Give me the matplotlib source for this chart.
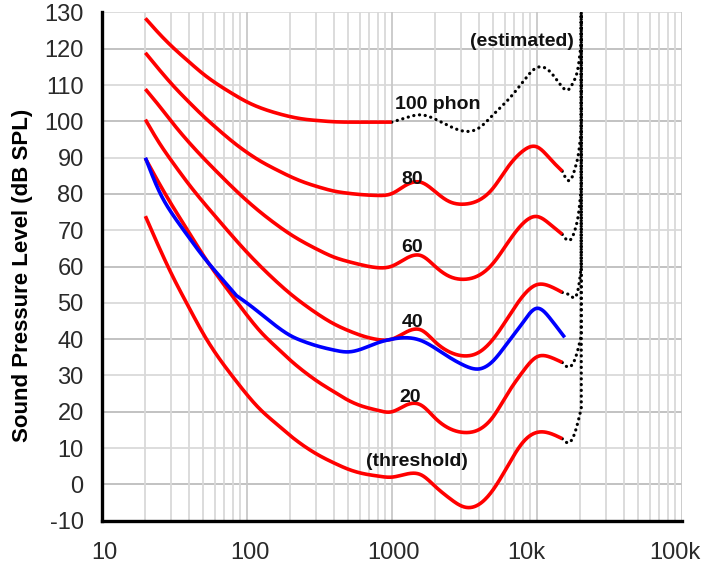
import numpy as np
import matplotlib
matplotlib.use("Agg")
import matplotlib.pyplot as plt
from matplotlib.transforms import ScaledTranslation

plt.rcParams['font.family'] = ['Liberation Sans', 'DejaVu Sans']
plt.rcParams['axes.unicode_minus'] = False

# ---------------- data ----------------
freq = [20, 25, 31.5, 40, 50, 63, 80, 100, 125, 160, 200, 250, 315, 400, 500,
        630, 800, 1000, 1250, 1600, 2000, 2500, 3150, 4000, 5000, 6300, 8000,
        10000, 12500, 15000]

phon_0 = [73.9, 65.1, 56.6, 48.7, 41.6, 35.3, 29.7, 24.8, 20.5, 16.7, 13.4, 10.5,
          8.0, 5.9, 4.2, 3.0, 2.3, 2.0, 2.8, 2.6, -0.6, -3.8, -6.2, -5.5, -1.5,
          5.0, 11.5, 14.3, 14.0, 12.6]
phon_20 = [89.8, 82.8, 76.0, 69.4, 63.2, 57.4, 51.8, 46.7, 42.0, 37.8, 34.2, 31.0,
           28.1, 25.5, 23.2, 21.5, 20.4, 20.0, 21.8, 21.8, 18.2, 15.4, 14.3, 15.1,
           18.6, 25.0, 31.0, 35.1, 35.0, 33.6]
phon_40 = [100.5, 94.0, 88.2, 82.6, 77.8, 73.1, 68.3, 64.0, 60.0, 55.9, 52.5, 49.5,
           46.7, 44.2, 42.4, 40.9, 39.9, 40.0, 41.9, 42.5, 39.2, 36.5, 35.4, 36.4,
           40.0, 45.8, 51.8, 55.0, 54.5, 52.9]
phon_60 = [108.9, 104.2, 99.1, 94.2, 90.0, 85.9, 81.8, 78.2, 74.9, 71.6, 68.9, 66.6,
           64.5, 62.6, 61.4, 60.4, 59.7, 60.1, 62.2, 63.0, 60.0, 57.3, 56.5, 57.6,
           60.9, 66.5, 71.8, 73.8, 71.5, 68.9]
phon_80 = [118.9, 114.2, 109.6, 105.3, 101.5, 97.9, 94.4, 91.5, 89.0, 86.7, 84.8, 83.2,
           81.9, 80.8, 80.2, 79.8, 79.6, 80.1, 82.4, 83.2, 80.6, 77.9, 77.2, 78.3,
           81.6, 87.3, 91.8, 93.0, 89.5, 86.3]
freq_100 = [20, 25, 31.5, 40, 50, 63, 80, 100, 125, 160, 200, 250, 315, 400, 500,
            630, 800, 1000]
phon_100 = [128.4, 124.1, 120.1, 116.4, 113.1, 110.2, 107.6, 105.4, 103.7, 102.3,
            101.3, 100.6, 100.2, 99.9, 99.8, 99.8, 99.8, 99.8]

# original (older) 40-phon contour, blue (two smooth pieces meeting at a kink)
freq_old_lo = [20, 25, 31.5, 40, 50, 63, 85]
phon_old_lo = [90.0, 80.6, 73.8, 68.0, 62.8, 58.0, 52.0]
freq_old_hi = [85, 100, 125, 160, 200, 250, 315, 400, 500, 630, 800, 1000, 1250,
               1600, 2000, 2500, 3150, 4000, 5000, 6300, 8000, 10000, 12500, 15600]
phon_old_hi = [52.0, 50.0, 47.0, 43.6, 41.0, 39.3, 38.0, 37.0, 36.5, 37.4, 39.0,
               40.0, 40.4, 39.6, 37.5, 35.0, 32.8, 31.8, 34.0, 39.0, 44.5, 48.5,
               45.5, 40.5]

# estimated (dotted) extensions
est_100_f = [1000, 1250, 1600, 2000, 2500, 3150, 4000, 5000, 6300, 8000, 10000,
             12500, 15000, 16500, 18000, 19500, 20300, 20300]
est_100_v = [99.8, 101.0, 101.8, 100.6, 98.7, 97.3, 98.2, 101.8, 105.8, 110.8, 114.8,
             113.5, 109.5, 108.7, 111.0, 116.0, 122.0, 140.0]
est_80_f = [15000, 17200, 18700, 19600, 20300, 20300]
est_80_v = [86.3, 84.0, 88.1, 92.2, 98.0, 140.0]
est_60_f = [15000, 17200, 18700, 19600, 20300, 20300]
est_60_v = [68.9, 67.5, 71.2, 75.7, 82.0, 140.0]
est_40_f = [15000, 17200, 19500, 20300, 20300]
est_40_v = [52.9, 51.9, 54.7, 60.0, 140.0]
est_20_f = [15000, 16600, 18700, 20300, 20300]
est_20_v = [33.6, 32.3, 35.4, 41.0, 140.0]
est_0_f = [15000, 16900, 18700, 20300, 20300]
est_0_v = [12.6, 11.6, 15.3, 21.0, 140.0]

xticks = [10, 100, 1000, 10000, 100000]
xticklabels = ['10', '100', '1000', '10k', '100k']
yticks = list(range(-10, 131, 10))


def spline(f, v, n=600):
    """Natural cubic spline through the read points, in log-frequency."""
    x = np.log10(np.asarray(f, float))
    y = np.asarray(v, float)
    m = len(x)
    h = np.diff(x)
    A = np.zeros((m, m))
    b = np.zeros(m)
    A[0, 0] = A[-1, -1] = 1.0
    for i in range(1, m - 1):
        A[i, i - 1] = h[i - 1]
        A[i, i] = 2 * (h[i - 1] + h[i])
        A[i, i + 1] = h[i]
        b[i] = 3 * ((y[i + 1] - y[i]) / h[i] - (y[i] - y[i - 1]) / h[i - 1])
    c = np.linalg.solve(A, b)
    bb = (y[1:] - y[:-1]) / h - h * (2 * c[:-1] + c[1:]) / 3
    d = (c[1:] - c[:-1]) / (3 * h)
    xs = np.linspace(x[0], x[-1], n)
    k = np.clip(np.searchsorted(x, xs) - 1, 0, m - 2)
    t = xs - x[k]
    ys = y[k] + bb[k] * t + c[k] * t ** 2 + d[k] * t ** 3
    return 10 ** xs, ys


fig = plt.figure(figsize=(7.04, 5.68), dpi=100)
ax = fig.add_axes([0.1445, 0.0833, 0.8238, 0.8947])
ax.set_xscale('log')
ax.set_xlim(10, 100000)
ax.set_ylim(-10, 130)

# grid
ax.set_axisbelow(True)
ax.grid(which='minor', axis='x', color='#d9d9d9', lw=1.3)
ax.grid(which='major', axis='x', color='#c8c8c8', lw=1.3)
for yv in yticks:
    ax.axhline(yv, color='#bdbdbd' if yv % 20 == 0 else '#dadada', lw=1.3, zorder=0)

red = '#ff0000'
for f_, v_ in [(freq, phon_0), (freq, phon_20), (freq, phon_40), (freq, phon_60),
               (freq, phon_80), (freq_100, phon_100)]:
    xs, ys = spline(f_, v_)
    ax.plot(xs, ys, color=red, lw=2.6, solid_capstyle='butt', zorder=3)

x1, y1 = spline(freq_old_lo, phon_old_lo, n=200)
x2, y2 = spline(freq_old_hi, phon_old_hi, n=600)
ax.plot(np.concatenate([x1, x2[1:]]), np.concatenate([y1, y2[1:]]),
        color='#0000ff', lw=2.6, solid_capstyle='butt', zorder=4)

for f_, v_ in [(est_100_f, est_100_v), (est_80_f, est_80_v), (est_60_f, est_60_v),
               (est_40_f, est_40_v), (est_20_f, est_20_v), (est_0_f, est_0_v)]:
    xs, ys = spline(f_[:-1], v_[:-1], n=300)
    xs = np.append(xs, f_[-1])
    ys = np.append(ys, v_[-1])
    ax.plot(xs, ys, color='black', lw=2.3, linestyle=(0, (0.05, 1.75)),
            dash_capstyle='round', zorder=2)

# labels
tk = dict(fontsize=14, fontweight='bold', color='#111111', zorder=5)
ax.text(2085, 104.6, '100 phon', ha='center', va='center', **tk)
ax.text(1391, 84.0, '80', ha='center', va='center', **tk)
ax.text(1391, 65.2, '60', ha='center', va='center', **tk)
ax.text(1391, 44.6, '40', ha='center', va='center', **tk)
ax.text(1340, 24.0, '20', ha='center', va='center', **tk)
ax.text(1482, 6.3, '(threshold)', ha='center', va='center', **tk)
ax.text(18100, 122.0, '(estimated)', ha='right', va='center', **tk)

# axes styling
for s in ['top', 'right']:
    ax.spines[s].set_visible(False)
for s in ['left', 'bottom']:
    ax.spines[s].set_linewidth(2.4)
    ax.spines[s].set_color('black')
ax.set_xticks(xticks)
ax.set_xticklabels(xticklabels)
ax.set_yticks(yticks)
ax.tick_params(which='both', length=0, labelsize=17, colors='#2a2a2a')
ax.tick_params(axis='x', pad=15)
ax.tick_params(axis='y', pad=13)
shifts = [2.5, 3.0, 2.0, -10.0, -7.0]
for lbl, dx in zip(ax.get_xticklabels(), shifts):
    lbl.set_transform(lbl.get_transform() + ScaledTranslation(dx / 100, 0, fig.dpi_scale_trans))
ax.set_ylabel('Sound Pressure Level (dB SPL)', fontsize=16, fontweight='bold')
ax.yaxis.set_label_coords(-0.118, 0.4835)

fig.savefig('out.png', dpi=100)
